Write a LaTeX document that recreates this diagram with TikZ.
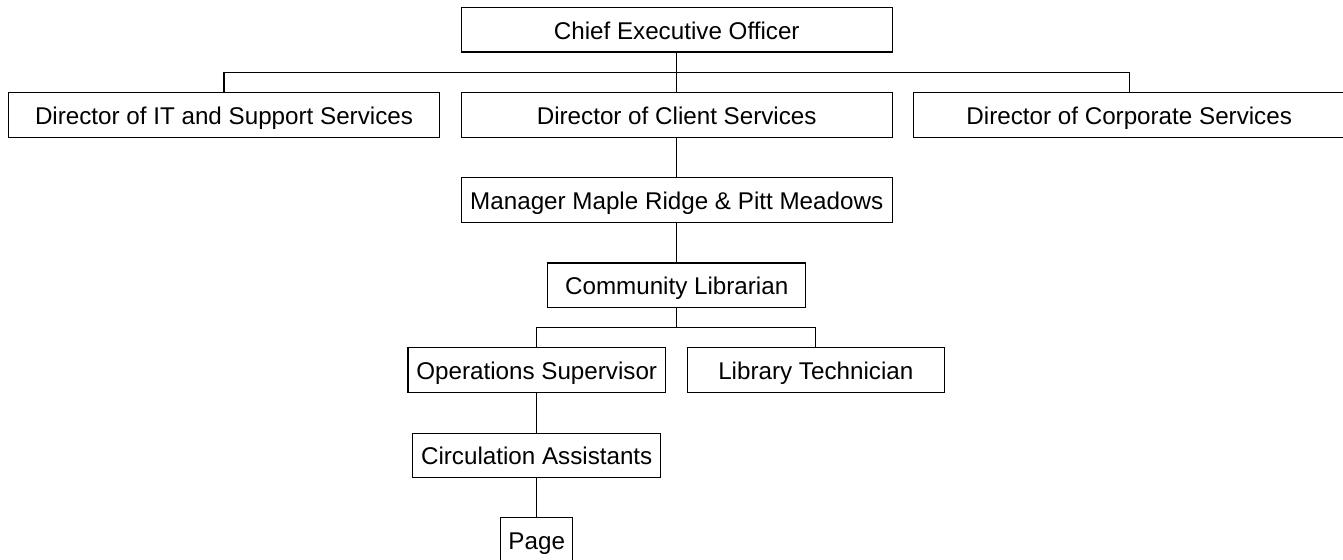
\documentclass[tikz,border=0pt]{standalone}
\usepackage{fontspec}
\setmainfont{Liberation Sans}
\begin{document}
\begin{tikzpicture}[x=0.5pt,y=-0.5pt,
  box/.style={draw=black,line width=0.65pt,fill=white,rectangle,inner sep=0pt,
    text height=11.4pt,text depth=2pt,
    minimum height=22.2pt,font=\fontsize{12.1}{14}\selectfont},
  link/.style={draw=black,line width=0.65pt}]
\useasboundingbox (0,0) rectangle (1343,559);
\fill[white] (0,0) rectangle (1343,559);
\clip (0,0) rectangle (1343,559);
% nodes
\node[box,minimum width=215.5pt] (ceo) at (676.7,29.8) {Chief Executive Officer};
\node[box,minimum width=215.5pt] (it) at (224,115) {Director of IT and Support Services};
\node[box,minimum width=215.5pt] (client) at (676.7,115) {Director of Client Services};
\node[box,minimum width=215.5pt] (corp) at (1129.2,115) {Director of Corporate Services};
\node[box,minimum width=215.5pt] (mgr) at (676.7,200) {Manager Maple Ridge \& Pitt Meadows};
\node[box,minimum width=129pt] (comm) at (676.7,285.2) {Community Librarian};
\node[box,minimum width=128.8pt] (ops) at (536.7,370) {Operations Supervisor};
\node[box,minimum width=128.6pt] (tech) at (815.8,370) {Library Technician};
\node[box,minimum width=124pt] (circ) at (536.7,455.5) {Circulation Assistants};
\node[box,minimum width=36pt] (page) at (536.7,539.7) {Page};
% bus coordinates
\coordinate (bus1) at (676.7,72.3);
\coordinate (bus2) at (676.7,327.5);
% connectors
\draw[link] (ceo.south) -- (client.north);
\draw[link] (it.north) |- (bus1) -| (corp.north);
\draw[link] (client.south) -- (mgr.north);
\draw[link] (mgr.south) -- (comm.north);
\draw[link] (comm.south) -- (bus2);
\draw[link] (ops.north) |- (bus2) -| (tech.north);
\draw[link] (ops.south) -- (circ.north);
\draw[link] (circ.south) -- (page.north);
\end{tikzpicture}
\end{document}
